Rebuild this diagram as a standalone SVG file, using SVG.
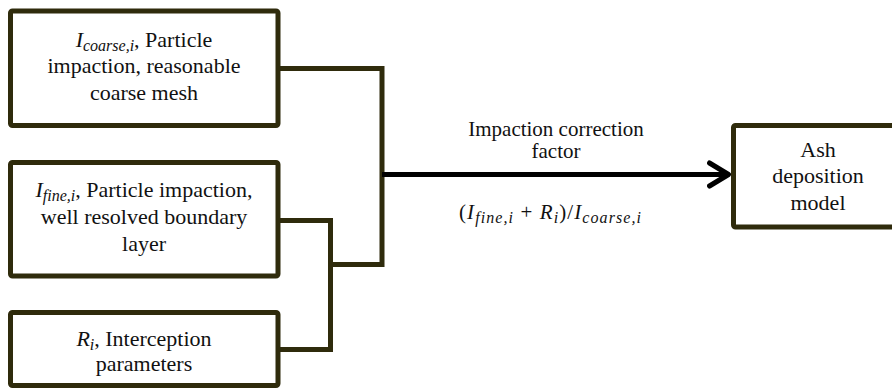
<svg xmlns="http://www.w3.org/2000/svg" width="892" height="388" viewBox="0 0 892 388">
<style>
.box{fill:#fff;stroke:#2f2b0c;stroke-width:5}
.t{font-family:"Liberation Serif","Times New Roman",serif;font-size:22px;fill:#111;text-anchor:middle}
.lb{font-family:"Liberation Serif","Times New Roman",serif;font-size:21px;fill:#111;text-anchor:middle}
.m{font-style:italic}
.s{font-style:italic;font-size:16px}
.c{fill:none;stroke:#2f2b0c;stroke-width:5}
.a{fill:none;stroke:#000;stroke-width:5}
</style>
<defs>
<marker id="arr" markerUnits="userSpaceOnUse" markerWidth="30" markerHeight="30" viewBox="0 0 30 30" refX="22" refY="15" orient="auto">
<polyline points="3,3.5 22,15 3,26.5" fill="none" stroke="#000" stroke-width="5" stroke-linecap="round" stroke-linejoin="round"/>
</marker>
</defs>
<rect width="892" height="388" fill="#fff"/>
<g id="connectors">
<polyline class="c" points="278,68.5 382,68.5 382,264.5 330.5,264.5"/>
<polyline class="c" points="278,220.5 330.5,220.5 330.5,349.5 278,349.5"/>
<line class="a" x1="382" y1="174.5" x2="728.5" y2="174.5" marker-end="url(#arr)"/>
<text class="lb" x="556" y="136">Impaction correction</text>
<text class="lb" x="556" y="158">factor</text>
<text class="lb" x="550" y="219" textLength="182" lengthAdjust="spacing">(<tspan class="m">I</tspan><tspan class="s" dy="4">fine,i</tspan><tspan dy="-4"> + </tspan><tspan class="m">R</tspan><tspan class="s" dy="4">i</tspan><tspan dy="-4">)/</tspan><tspan class="m">I</tspan><tspan class="s" dy="4">coarse,i</tspan></text>
</g>
<g id="n1">
<rect class="box" x="10.5" y="11" width="267.5" height="114.5" rx="2"/>
<text class="t" x="144" y="47"><tspan class="m">I</tspan><tspan class="s" dy="4">coarse,i</tspan><tspan dy="-4">, Particle</tspan></text>
<text class="t" x="144" y="73">impaction, reasonable</text>
<text class="t" x="144" y="100">coarse mesh</text>
</g>
<g id="n2">
<rect class="box" x="10.5" y="162.5" width="267.5" height="113.5" rx="2"/>
<text class="t" x="144" y="197"><tspan class="m">I</tspan><tspan class="s" dy="4">fine,i</tspan><tspan dy="-4">, Particle impaction,</tspan></text>
<text class="t" x="144" y="224">well resolved boundary</text>
<text class="t" x="144" y="251">layer</text>
</g>
<g id="n3">
<rect class="box" x="10.5" y="312.5" width="267.5" height="73" rx="2"/>
<text class="t" x="144" y="346"><tspan class="m">R</tspan><tspan class="s" dy="4">i</tspan><tspan dy="-4">, Interception</tspan></text>
<text class="t" x="144" y="371">parameters</text>
</g>
<g id="n4">
<rect class="box" x="733.5" y="125.5" width="170" height="101.5" rx="2"/>
<text class="t" x="818" y="157">Ash</text>
<text class="t" x="818" y="183">deposition</text>
<text class="t" x="818" y="210">model</text>
</g>
</svg>
